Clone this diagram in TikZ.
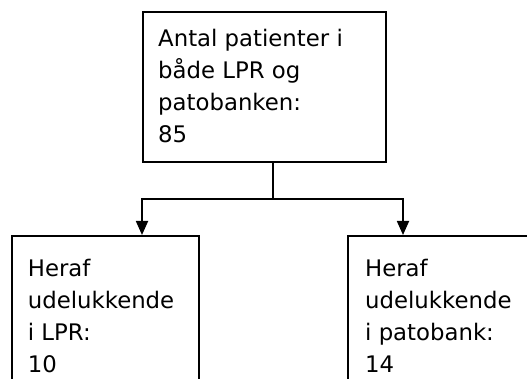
\documentclass[tikz,border=0pt]{standalone}
\usepackage{fontspec}
\setmainfont{DejaVu Sans}
\usetikzlibrary{arrows.meta,calc}
\tikzset{
  box/.style={draw, line width=1.6pt, rectangle, inner sep=0pt, anchor=north west},
  lbl/.style={anchor=north west, inner sep=0pt, align=left, font=\fontsize{22.8}{32}\selectfont},
  conn/.style={draw, line width=1.8pt},
  arr/.style={conn, -{Triangle[width=12pt,length=14pt]}}
}
\begin{document}
\begin{tikzpicture}[x=1pt,y=-1pt]
\useasboundingbox (0,0) rectangle (527,379);
\clip (0,0) rectangle (527,379);
\node[box, minimum width=243pt, minimum height=150pt] (top) at (142,11) {};
\node[box, minimum width=187pt, minimum height=200pt] (left) at (11,235) {};
\node[box, minimum width=220pt, minimum height=200pt] (right) at (347,235) {};
\node[lbl] (ttop) at (158,29.4) {Antal patienter i\\både LPR og\\patobanken:\\85};
\node[lbl] (tleft) at (27.7,259.4) {Heraf\\udelukkende\\i LPR:\\10};
\node[lbl] (tright) at (365,259.4) {Heraf\\udelukkende\\i patobank:\\14};
\coordinate (j) at (273,199);
\draw[conn] (top.south -| j) -- (j);
\draw[arr] (j) -| ([xshift=131pt]left.north west);
\draw[arr] (j) -| ([xshift=56pt]right.north west);
\end{tikzpicture}
\end{document}
